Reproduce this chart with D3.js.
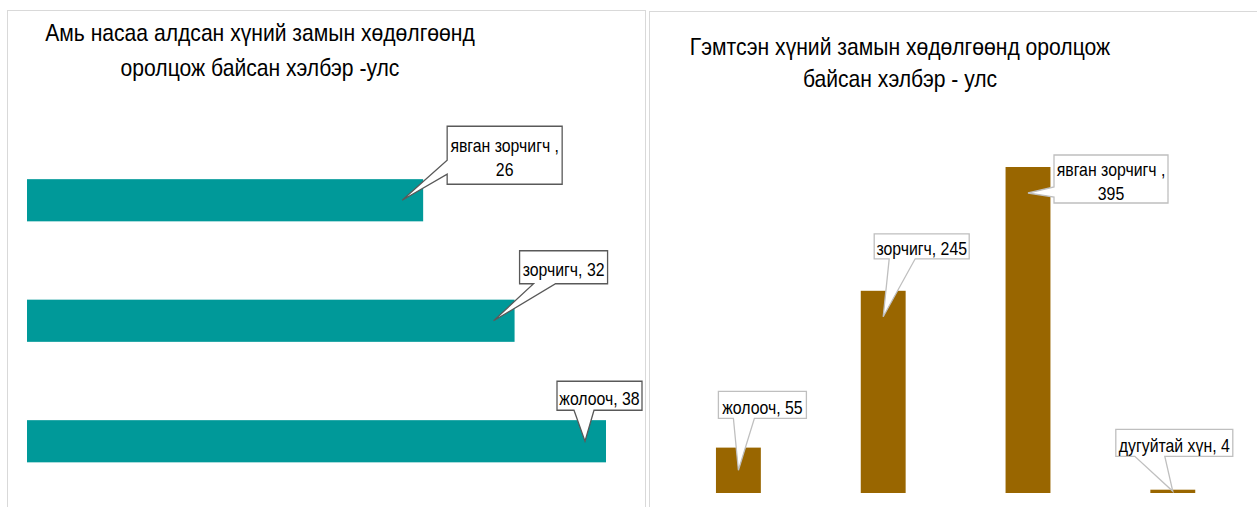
<!DOCTYPE html>
<html>
<head>
<meta charset="utf-8">
<script src="https://cdn.jsdelivr.net/npm/d3@7"></script>
<style>
  body { margin: 0; background: #fff; }
  svg text { font-family: "Liberation Sans", Arial, sans-serif; fill: #000; }
</style>
</head>
<body>
<svg id="vis" width="1257" height="507"></svg>
<script>
// left chart - fatalities by road user type
var leftCategories = ["явган зорчигч ", "зорчигч", "жолооч"];
var leftValues = [26, 32, 38];
var leftTitle = ["Амь насаа алдсан хүний замын хөдөлгөөнд", "оролцож байсан хэлбэр -улс"];

// right chart - injured by road user type
var rightCategories = ["жолооч", "зорчигч", "явган зорчигч ", "дугуйтай хүн"];
var rightValues = [55, 245, 395, 4];
var rightTitle = ["Гэмтсэн хүний замын хөдөлгөөнд оролцож", "байсан хэлбэр - улс"];

var squeeze = 0.88; // text in the picture is horizontally condensed

var svg = d3.select("#vis");

// panel frames
svg.append("rect").attr("x", 7.5).attr("y", 10.5).attr("width", 638).attr("height", 510)
    .attr("fill", "none").attr("stroke", "#d9d9d9");
svg.append("rect").attr("x", 649.5).attr("y", 11.5).attr("width", 620).attr("height", 510)
    .attr("fill", "none").attr("stroke", "#d9d9d9");

// centered condensed text
function ctext(g, str, x, y, size) {
  g.append("g")
    .attr("transform", "translate(" + x + "," + y + ") scale(" + squeeze + ",1)")
    .append("text")
      .attr("text-anchor", "middle")
      .attr("font-size", size + "px")
      .text(str);
}

// titles
function title(lines, cx, y0, dy) {
  var g = svg.append("g");
  lines.forEach(function(d, i) { ctext(g, d, cx, y0 + i * dy, 24); });
}
title(leftTitle, 260, 41, 35);
title(rightTitle, 900, 55, 32);

// callout: box (relative to tip) with a wedge on the left or bottom edge
function callout(g, tip, lay, lines, stroke) {
  var x0 = tip[0] + lay.dx, y0 = tip[1] + lay.dy, x1 = x0 + lay.w, y1 = y0 + lay.h;
  var p = d3.path();
  p.moveTo(x0, y0);
  p.lineTo(x1, y0);
  p.lineTo(x1, y1);
  if (lay.side == "bottom") {
    p.lineTo(x0 + lay.b[1], y1);
    p.lineTo(tip[0], tip[1]);
    p.lineTo(x0 + lay.b[0], y1);
    p.lineTo(x0, y1);
  } else {
    p.lineTo(x0, y1);
    p.lineTo(x0, y0 + lay.b[1]);
    p.lineTo(tip[0], tip[1]);
    p.lineTo(x0, y0 + lay.b[0]);
  }
  p.closePath();
  g.append("path").attr("d", p.toString())
    .attr("fill", "#fff").attr("stroke", stroke).attr("stroke-width", 1.3);
  var lh = 24;
  var ty = (y0 + y1) / 2 - (lines.length - 1) * lh / 2 + 9;
  lines.forEach(function(d, i) { ctext(g, d, (x0 + x1) / 2, ty + i * lh, 18); });
}

function labelLines(cat, v, wrap) {
  return wrap ? [cat + ",", "" + v] : [cat + ", " + v];
}

// ---- left horizontal bars ----
var xL = d3.scaleLinear().domain([0, d3.max(leftValues)]).range([27, 606]);
var yL = d3.scaleBand().domain(leftCategories).range([140, 501.5])
    .paddingInner(0.65).paddingOuter(0.325);

var gL = svg.append("g");
gL.selectAll("rect")
  .data(leftValues)
  .enter().append("rect")
    .attr("x", xL(0))
    .attr("y", function(d, i) { return yL(leftCategories[i]); })
    .attr("width", function(d) { return xL(d) - xL(0); })
    .attr("height", yL.bandwidth())
    .attr("fill", "#009999");

var leftLayout = [
  {dx: 45, dy: -74, w: 115, h: 58, side: "left", b: [34, 48], wrap: true},
  {dx: 26, dy: -70, w: 88, h: 33, side: "bottom", b: [14, 36]},
  {dx: -28, dy: -60, w: 85, h: 29, side: "bottom", b: [17, 37]}
];
leftValues.forEach(function(v, i) {
  var tip = [xL(v) - 21, yL(leftCategories[i]) + yL.bandwidth() / 2];
  callout(svg.append("g"), tip, leftLayout[i], labelLines(leftCategories[i], v, leftLayout[i].wrap), "#595959");
});

// ---- right vertical bars ----
var xR = d3.scaleBand().domain(rightCategories).range([666, 1245.2])
    .paddingInner(0.69).paddingOuter(0.345);
var yR = d3.scaleLinear().domain([0, d3.max(rightValues)]).range([493, 167]);

var gR = svg.append("g");
gR.selectAll("rect")
  .data(rightValues)
  .enter().append("rect")
    .attr("x", function(d, i) { return xR(rightCategories[i]); })
    .attr("y", function(d) { return yR(d); })
    .attr("width", xR.bandwidth())
    .attr("height", function(d) { return yR(0) - yR(d); })
    .attr("fill", "#996600");

var rightLayout = [
  {dx: -20, dy: -79, w: 88, h: 27, side: "bottom", b: [15, 36]},
  {dx: -9, dy: -83, w: 95, h: 25, side: "bottom", b: [15, 41]},
  {dx: 26, dy: -38, w: 114, h: 48, side: "left", b: [32, 42], wrap: true},
  {dx: -57, dy: -62, w: 117, h: 27, side: "bottom", b: [19, 49]}
];
rightValues.forEach(function(v, i) {
  var top = yR(v), hgt = yR(0) - yR(v);
  var tip = [xR(rightCategories[i]) + xR.bandwidth() / 2, top + Math.min(26, hgt / 2)];
  callout(svg.append("g"), tip, rightLayout[i], labelLines(rightCategories[i], v, rightLayout[i].wrap), "#bfbfbf");
});
</script>
</body>
</html>
